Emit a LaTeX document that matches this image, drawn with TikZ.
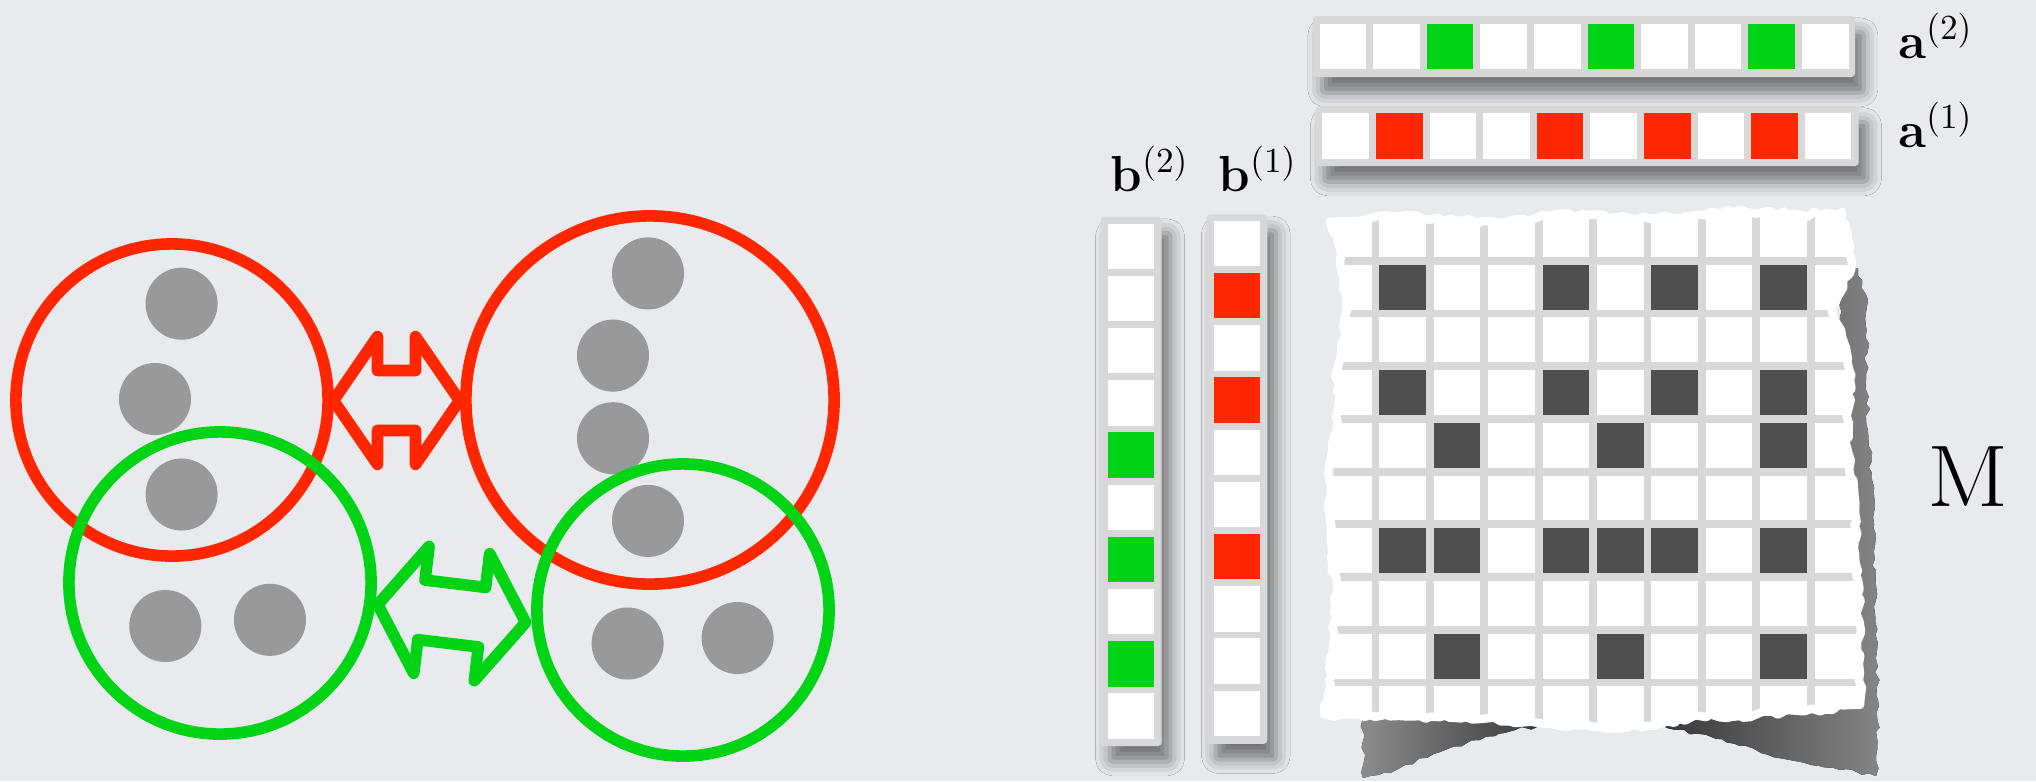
\documentclass[tikz,border=0pt]{standalone}
\usepackage{bm}
\definecolor{myred}{HTML}{FF2600}
\definecolor{mygreen}{HTML}{00D414}
\definecolor{dotgray}{HTML}{999999}
\definecolor{darkcell}{HTML}{4F4F4F}
\definecolor{linegray}{HTML}{D8D8D8}
\definecolor{slidebg}{HTML}{E9EAED}
\usepackage{tikz}
\usetikzlibrary{positioning, calc, shadows.blur, decorations.pathmorphing}
\tikzset{
	swaparrow/.pic={
			\draw[line width=3.3pt, line join=round]
			(-#1,0) --
			(-#1+44,-64) --
			(-#1+44,-30) --
			(#1-44,-30) --
			(#1-44,-64) --
			(#1,0) --
			(#1-44,64) --
			(#1-44,30) --
			(-#1+44,30) --
			(-#1+44,64) --
			cycle;
		}
}
\tikzset{
	ring/.style={circle, line width=3.3pt, inner sep=0pt},
	graydot/.style={circle, fill=dotgray, inner sep=0pt, minimum size=0.72cm}
}
\tikzset{
	vecbar/.style={fill=linegray, rounded corners=1pt,
			blur shadow={shadow xshift=2.5pt, shadow yshift=-4.5pt, shadow blur radius=4pt, shadow opacity=50}},
	cell/.style={rectangle, fill=white, inner sep=0pt, minimum width=0.465cm, minimum height=0.455cm},
	mcell/.style={rectangle, fill=white, inner sep=0pt, minimum width=0.466cm, minimum height=0.448cm}
}
\tikzset{
	veclabel/.style={font=\fontsize{14}{17}\selectfont, anchor=base west, inner sep=0pt},
	torn/.style={decorate, decoration={random steps, segment length=2pt, amplitude=0.7pt}},
	papershape/.style={insert path={
					(1330,222) -- (1400,216) -- (1500,223) -- (1560,214) -- (1650,219) --
					(1740,210) -- (1800,215) -- (1842,212) -- (1852,262) -- (1832,312) --
					(1846,348) -- (1850,380) -- (1847,447) -- (1855,513) -- (1858,580) --
					(1860,705) -- (1800,711) -- (1740,716) -- (1700,716) -- (1655,726) --
					(1600,727) -- (1545,724) -- (1480,719) -- (1420,716) -- (1365,717) --
					(1324,714) -- (1329,681) -- (1336,607) -- (1331,533) -- (1329,478) --
					(1336,418) -- (1338,367) -- (1347,311) -- (1338,237) -- cycle}}
}

\begin{document}
\begin{tikzpicture}[x=0.01cm, y=-0.01cm]

	\useasboundingbox (0,0) rectangle (2036,781);
	\fill[slidebg] (0,0) rectangle (2036,781);

	% left: clusters
	\begin{scope}
		\node[graydot] (dA1) at (181.6,303.7) {};
		\node[graydot] (dA2) at (155,399) {};
		\node[graydot] (dA3) at (181.6,494.5) {};
		\node[graydot] (dB1) at (165.3,626) {};
		\node[graydot] (dB2) at (270,619.8) {};
		\node[graydot] (dC1) at (648,273.4) {};
		\node[graydot] (dC2) at (613,355.6) {};
		\node[graydot] (dC3) at (613,438.2) {};
		\node[graydot] (dC4) at (648,520.9) {};
		\node[graydot] (dD1) at (627.6,643.5) {};
		\node[graydot] (dD2) at (737.6,638) {};

		\node[ring, draw=myred, minimum size=3.12cm] (rA) at (172,400) {};
		\node[ring, draw=mygreen, minimum size=3.02cm] (gA) at (220,583) {};
		\node[ring, draw=myred, minimum size=3.68cm] (rB) at (650,400) {};
		\node[ring, draw=mygreen, minimum size=2.92cm] (gB) at (683,610) {};

		\pic[myred] at (396.5,400.5) {swaparrow=63};
		\pic[mygreen, rotate=-6.9] at (451.7,613.5) {swaparrow=74.5};
	\end{scope}

	% vectors a
	\begin{scope}
		\fill[vecbar] (1313,16) rectangle (1855,77);
		\fill[vecbar] (1315.5,106) rectangle (1858.7,166);
		\foreach \k in {1,...,10} {
				\node[cell] (a2-\k) at ({1342.9+(\k-1)*53.6},46.3) {};
				\node[cell] (a1-\k) at ({1345.7+(\k-1)*53.6},135.9) {};
			}
		\foreach \k in {3,6,9}
		\node[cell, fill=mygreen] at (a2-\k) {};
		\foreach \k in {2,5,7,9}
		\node[cell, fill=myred] at (a1-\k) {};

		\node[veclabel] (la2) at (1898,58) {$\mathbf{a}^{(2)}$};
		\node[veclabel] (la1) at (1898,147) {$\mathbf{a}^{(1)}$};
	\end{scope}

	% vectors b
	\begin{scope}
		\fill[vecbar] (1100.7,217) rectangle (1161.7,746);
		\fill[vecbar] (1206.7,214.4) rectangle (1267.3,743.8);
		\foreach \k in {1,...,10} {
				\node[cell] (b2-\k) at (1131,{246.3+(\k-1)*52.2}) {};
				\node[cell] (b1-\k) at (1237.2,{243.5+(\k-1)*52.2}) {};
			}
		\foreach \k in {5,7,9}
		\node[cell, fill=mygreen] at (b2-\k) {};
		\foreach \k in {2,4,7}
		\node[cell, fill=myred] at (b1-\k) {};

		\node[veclabel] (lb2) at (1110,191) {$\mathbf{b}^{(2)}$};
		\node[veclabel] (lb1) at (1218,191) {$\mathbf{b}^{(1)}$};
	\end{scope}

	% matrix on torn paper
	\begin{scope}
		\pgfmathsetseed{5}
		\fill[left color=black!45, right color=black!80, torn]
		(1363,700) -- (1363,778) -- (1400,768) -- (1440,752) -- (1480,740) --
		(1515,730) -- (1550,724) -- (1550,700) -- cycle;
		\fill[left color=black!80, right color=black!48, torn]
		(1650,700) -- (1655,724) -- (1700,734) -- (1740,746) -- (1790,760) --
		(1840,770) -- (1876,776) -- (1878,700) -- (1876,600) -- (1872,480) --
		(1866,380) -- (1868,300) -- (1858,268) -- (1840,268) -- (1840,700) -- cycle;

		\pgfmathsetseed{11}
		\fill[white, torn, papershape];
	\end{scope}

	\begin{scope}
		\pgfmathsetseed{11}
		\clip[torn, papershape];
		\fill[linegray] (1310,190) rectangle (1880,750);
		\foreach \r in {1,...,10}
		\foreach \c in {1,...,10}
		\node[mcell] (m\r-\c) at ({1402.7+(\c-2)*54.4},{287.2+(\r-2)*52.7}) {};
		\foreach \r/\c in {2/2,2/5,2/7,2/9,4/2,4/5,4/7,4/9,5/3,5/6,5/9,
				7/2,7/3,7/5,7/6,7/7,7/9,9/3,9/6,9/9}
		\node[mcell, fill=darkcell] at (m\r-\c) {};
	\end{scope}

	\pgfmathsetseed{11}
	\draw[white, line width=2.4pt, line join=round, torn, papershape];

	\node[font=\fontsize{28}{32}\selectfont, anchor=base west, inner sep=0pt] (lM) at (1927,506) {\scalebox{1.09}[1]{$\mathrm{M}$}};

\end{tikzpicture}
\end{document}
